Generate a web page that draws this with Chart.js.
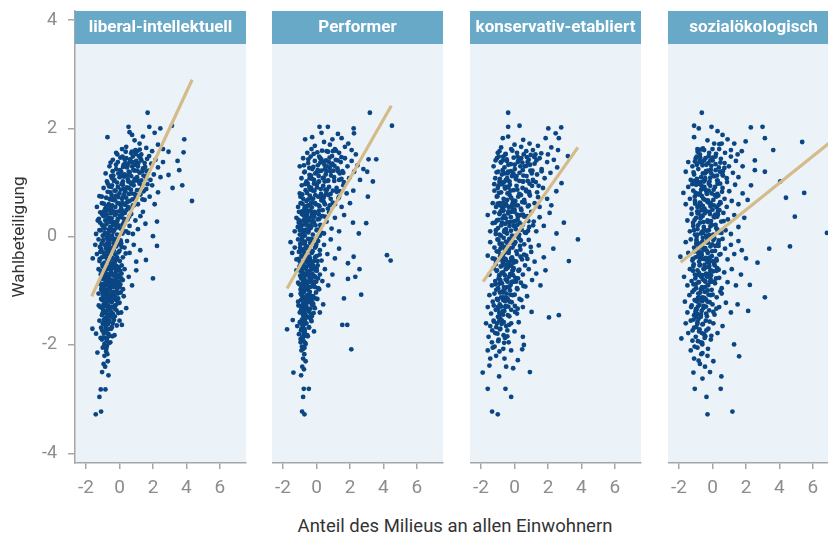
<!DOCTYPE html>
<html>
<head>
<meta charset="utf-8">
<script src="https://cdn.jsdelivr.net/npm/chart.js@4.4.0/dist/chart.umd.min.js"></script>
<style>
  html, body { margin: 0; padding: 0; background: #fff; }
  #wrap { position: relative; width: 828px; height: 539px; overflow: hidden; }
  #wrap canvas { position: absolute; top: 0; }
  #xtitle { position: absolute; left: 0; width: 910px; top: 515px; text-align: center;
            font: 18.5px Roboto, sans-serif; color: #333; }
</style>
</head>
<body>
<div id="wrap">
  <canvas id="p0" width="247" height="500" style="left:0px"></canvas>
  <canvas id="p1" width="172" height="500" style="left:272px"></canvas>
  <canvas id="p2" width="172" height="500" style="left:470px"></canvas>
  <canvas id="p3" width="172" height="500" style="left:668px"></canvas>
  <div id="xtitle">Anteil des Milieus an allen Einwohnern</div>
</div>
<script>
var panelTitles = ['liberal-intellektuell', 'Performer', 'konservativ-etabliert', 'sozialökologisch'];
var xTicks = [-2, 0, 2, 4, 6];
var yTicks = [-4, -2, 0, 2, 4];

// [Anteil, Wahlbeteiligung] per Gemeinde
var libPts = [
[1.68,2.29],[0.54,2.03],[1.78,2.03],[2.44,2.0],[3.13,2.05],[-0.72,1.84],[0.6,1.93],[0.75,1.88],[1.4,1.85],[2.1,1.92],[0.9,1.78],[1.2,1.72],[2.3,1.7],[0.15,1.62],[0.4,1.66],[0.95,1.6],[1.6,1.64],[1.95,1.58],[2.6,1.62],[-0.2,1.55],[0.7,1.54],[1.3,1.52],[3.87,1.8],[3.83,1.56],[2.93,1.57],
[-0.75,1.02],[-0.6,1.3],[-0.5,1.12],[-0.4,1.42],[-0.3,1.05],[-0.2,1.25],[-0.1,1.38],[0.0,1.1],[0.05,1.46],[0.1,1.2],[0.2,1.02],[0.25,1.33],[0.3,1.15],[0.4,1.45],[0.45,1.28],[0.5,1.06],[0.55,1.2],[0.6,1.38],[0.7,1.12],[0.75,1.3],[0.8,1.48],[0.85,1.02],[0.9,1.22],[1.0,1.4],[1.05,1.1],[1.1,1.3],[1.2,1.18],[1.25,1.45],[1.3,1.04],[1.4,1.26],[1.5,1.36],[1.55,1.12],[1.65,1.44],[1.75,1.22],[1.85,1.05],[1.9,1.35],[2.05,1.15],[2.15,1.42],[2.3,1.28],[2.45,1.1],[2.6,1.38],[3.47,1.4],[3.57,1.23],[2.93,1.14],[-0.15,1.0],[0.35,1.36],[0.65,1.0],[1.15,1.49],
[-1.35,0.55],[-1.2,0.75],[-1.05,0.62],[-0.95,0.9],[-0.85,0.52],[-0.8,0.72],[-0.7,0.98],[-0.65,0.6],[-0.55,0.82],[-0.5,0.52],[-0.45,0.95],[-0.4,0.68],[-0.3,0.85],[-0.25,0.55],[-0.2,0.76],[-0.1,0.92],[-0.05,0.62],[0.0,0.8],[0.1,0.52],[0.15,0.7],[0.2,0.96],[0.3,0.6],[0.35,0.84],[0.4,0.72],[0.5,0.55],[0.55,0.9],[0.6,0.66],[0.7,0.8],[0.8,0.58],[0.85,0.95],[0.95,0.72],[1.05,0.86],[1.1,0.6],[1.25,0.78],[1.35,0.94],[1.5,0.68],[1.6,0.88],[1.8,0.74],[1.95,0.95],[2.1,0.6],[2.3,0.82],[3.75,0.95],[3.17,0.9],[4.33,0.66],[-0.6,0.7],[0.25,0.88],[0.65,0.52],[1.2,0.98],
[-1.4,0.05],[-1.3,0.3],[-1.2,0.12],[-1.15,0.45],[-1.05,0.22],[-1.0,0.02],[-0.95,0.38],[-0.88,0.15],[-0.8,0.48],[-0.75,0.28],[-0.7,0.06],[-0.62,0.35],[-0.55,0.18],[-0.5,0.44],[-0.45,0.02],[-0.4,0.27],[-0.32,0.12],[-0.28,0.4],[-0.2,0.22],[-0.15,0.04],[-0.1,0.33],[-0.02,0.47],[0.05,0.15],[0.1,0.36],[0.18,0.06],[0.25,0.26],[0.32,0.44],[0.4,0.1],[0.48,0.32],[0.6,0.2],[0.7,0.42],[0.8,0.05],[0.95,0.3],[1.1,0.14],[1.25,0.38],[1.55,0.24],[2.24,0.28],[2.0,0.01],[1.4,0.46],[-0.65,0.0],[0.15,0.48],[-0.85,0.3],
[-1.6,-0.4],[-1.45,-0.15],[-1.35,-0.32],[-1.25,-0.05],[-1.2,-0.45],[-1.1,-0.22],[-1.05,-0.38],[-1.0,-0.08],[-0.95,-0.3],[-0.9,-0.48],[-0.85,-0.16],[-0.8,-0.35],[-0.75,-0.02],[-0.7,-0.25],[-0.65,-0.44],[-0.6,-0.12],[-0.55,-0.3],[-0.5,-0.05],[-0.45,-0.4],[-0.4,-0.2],[-0.35,-0.48],[-0.3,-0.1],[-0.25,-0.33],[-0.2,-0.18],[-0.12,-0.42],[-0.08,-0.04],[0.0,-0.26],[0.1,-0.12],[0.2,-0.38],[0.3,-0.2],[0.45,-0.08],[0.6,-0.3],[0.85,-0.15],[1.0,-0.46],[1.24,-0.25],[1.58,-0.43],[2.24,-0.17],[-1.15,-0.28],
[-1.25,-0.6],[-1.2,-0.85],[-1.12,-0.7],[-1.08,-0.95],[-1.0,-0.55],[-0.98,-0.78],[-0.92,-0.65],[-0.9,-0.92],[-0.85,-0.52],[-0.82,-0.74],[-0.78,-0.88],[-0.72,-0.6],[-0.7,-0.98],[-0.65,-0.7],[-0.62,-0.84],[-0.58,-0.55],[-0.55,-0.95],[-0.5,-0.66],[-0.46,-0.8],[-0.42,-0.58],[-0.38,-0.9],[-0.35,-0.72],[-0.3,-0.52],[-0.25,-0.85],[-0.2,-0.64],[-0.15,-0.96],[-0.1,-0.75],[-0.02,-0.56],[0.05,-0.88],[0.12,-0.68],[0.2,-0.8],[0.3,-0.6],[0.55,-0.74],[0.75,-0.9],[1.0,-0.62],[2.0,-0.77],[-0.78,-0.68],[-0.6,-0.78],
[-1.25,-1.05],[-1.15,-1.3],[-1.1,-1.15],[-1.05,-1.45],[-1.0,-1.02],[-0.95,-1.25],[-0.9,-1.38],[-0.88,-1.1],[-0.82,-1.5],[-0.78,-1.2],[-0.72,-1.04],[-0.7,-1.35],[-0.65,-1.18],[-0.6,-1.45],[-0.55,-1.08],[-0.5,-1.3],[-0.45,-1.2],[-0.4,-1.42],[-0.35,-1.02],[-0.3,-1.28],[-0.25,-1.12],[-0.18,-1.36],[-0.1,-1.05],[0.0,-1.22],[0.1,-1.4],[0.25,-1.1],[0.4,-1.32],[-0.8,-1.28],
[-1.62,-1.7],[-1.4,-1.79],[-1.2,-1.55],[-1.1,-1.68],[-1.05,-1.9],[-1.0,-1.6],[-0.95,-1.78],[-0.9,-1.98],[-0.85,-1.58],[-0.8,-1.72],[-0.75,-1.88],[-0.7,-1.62],[-0.65,-1.8],[-0.6,-1.55],[-0.55,-1.95],[-0.5,-1.7],[-0.4,-1.6],[-0.3,-1.82],[0.14,-1.63],[-0.16,-1.64],[0.0,-1.55],
[-1.32,-2.14],[-1.0,-2.05],[-0.9,-2.2],[-0.8,-2.12],[-0.7,-2.3],[-0.95,-2.35],[-0.86,-2.4],[-1.04,-2.5],[-0.66,-2.56],[-0.75,-2.02],[-1.12,-2.82],[-0.84,-2.82],[-1.2,-2.96],[-1.42,-3.28],[-1.1,-3.23],
[-0.83,1.17],[-0.62,0.93],[-0.41,1.21],[-0.27,0.67],[-0.13,1.52],[0.07,0.87],[0.21,1.29],[0.33,0.59],[0.47,1.13],[0.63,1.43],[0.77,0.69],[0.91,1.07],[1.13,1.36],[1.27,0.87],[1.43,1.13],[1.67,0.97],[0.13,0.97],[-0.53,1.37],[0.37,1.57],[0.83,1.24],[1.03,0.77],[-0.33,1.03],[0.57,0.79],[1.53,1.29],[-0.07,0.73],[0.27,1.11],[0.71,0.97],[1.21,1.61],[-0.71,0.83],[0.43,0.91],[0.97,1.53],[1.77,1.49],[-0.21,1.33],[0.03,1.23],[1.37,0.69],[0.61,1.19],[-0.47,0.77],[0.17,0.63],
[-1.23,0.33],[-1.07,-0.13],[-0.97,0.19],[-0.87,-0.37],[-0.77,0.41],[-0.67,-0.07],[-0.57,0.27],[-0.47,-0.23],[-0.37,0.09],[-0.27,-0.43],[-0.17,0.17],[-0.07,-0.29],[0.03,0.39],[0.13,-0.19],[0.23,0.11],[0.37,-0.31],[0.53,0.07],[-1.17,-0.19],[-0.93,0.47],[-0.73,-0.27],[-0.53,0.43],[-0.33,-0.13],[-0.13,0.29],[0.07,-0.07],[-0.87,0.07],[-0.63,0.13],[-0.43,-0.39],[-0.23,0.41],[-1.03,0.41],[0.27,0.33],[-0.03,0.03],[-0.59,-0.47],[-0.79,0.23],[-0.39,0.21],
[-1.13,-0.63],[-1.03,-1.17],[-0.97,-0.87],[-0.93,-1.53],[-0.87,-0.67],[-0.83,-1.03],[-0.77,-1.37],[-0.73,-0.79],[-0.67,-1.13],[-0.63,-0.57],[-0.59,-1.47],[-0.53,-0.87],[-0.49,-1.21],[-0.43,-0.69],[-0.39,-1.07],[-0.33,-0.83],[-0.29,-1.33],[-0.23,-0.59],[-0.19,-1.17],[-0.13,-0.91],[-0.07,-1.41],[-0.03,-0.71],[0.07,-1.03],[0.13,-0.53],[-1.07,-0.77],[-0.97,-1.29],[-0.89,-0.97],[-0.81,-0.59],[-0.71,-1.53],[-0.61,-0.97],[-0.51,-0.63],[-0.41,-1.49],[-0.31,-1.09],[-0.21,-0.77],[-0.11,-1.23],[0.01,-0.93],[-0.93,-1.13],[-0.79,-1.19],[-0.57,-1.31],[-0.37,-0.93],[-0.69,-0.89],[-0.47,-1.03],[-0.17,-1.01],[-1.01,-1.41],
[-1.03,-1.73],[-0.93,-2.03],[-0.83,-1.67],[-0.77,-1.93],[-0.67,-1.71],[-0.97,-1.61],[-0.73,-2.17],[-0.87,-1.87],[-0.59,-1.83],[-1.13,-1.87],
[-0.94,0.61],[-0.81,-0.22],[-0.66,0.49],[-1.02,-0.51],[-0.58,-0.71],[-0.87,-1.23],[-0.44,0.58],[-0.29,-0.47],[-0.74,-0.41],[-0.96,-0.06],[-0.52,-1.38],[-0.68,-1.27],[-0.35,0.71],[-0.18,0.46],[0.08,0.58],[-0.09,-0.62],[-0.83,-0.84],[-1.11,0.12],[-0.61,-0.19],[-0.42,-0.83],[-0.24,-1.27],[-0.78,0.56],[-0.56,0.69],[-0.91,-1.61],[-0.72,-1.79],[-0.64,-1.58],[-0.86,-0.36],[-0.34,-0.26],[-0.15,-0.38],[0.02,-0.45],[0.18,0.22],[0.41,0.49],[0.58,0.37],[0.86,0.58],[1.07,1.22],[1.31,1.41],[0.49,1.33],[0.12,1.12],[-0.37,1.13],[0.74,1.57],[0.93,1.33],[1.62,1.21],[1.44,0.84],[0.29,0.79],[-0.49,0.92],[-0.23,0.85],[-1.06,0.74],[-1.18,-0.41],[-1.09,-0.98],[-0.99,-1.08],[-0.81,-1.42],[-0.55,-1.13],[-0.33,-1.54],[-0.46,-1.67],[-0.7,-1.11],[-0.26,-0.69],[-0.04,-0.83],[0.21,-0.97],[-0.62,0.09],[-0.47,0.34],
[-1.06,-0.27],[-0.91,-0.71],[-0.76,-0.13],[-0.63,-0.93],[-0.48,-0.52],[-0.31,-0.04],[-0.19,-0.54],[-0.02,-0.14],[-1.14,-0.88],[-0.99,-1.34],[-0.84,-1.52],[-0.69,-1.44],[-0.54,-0.41],[-0.39,-1.16],[-0.14,-0.83],[0.04,-0.63],[-0.72,0.34],[-0.51,0.14],[-0.27,0.27],[-0.06,0.21],[0.16,0.41],[-0.89,0.43],[-1.16,0.26],[-0.58,0.57],[-0.36,0.47],[-0.11,0.62],[0.22,0.74],[0.46,0.64],[0.68,0.87],[0.89,0.79],[1.11,1.03],[0.31,1.43],[0.52,1.02],[0.78,1.38],[1.04,1.58],[1.36,1.21],[1.58,1.07],[-0.07,1.17],[0.18,1.48],[-0.44,1.08],[-0.96,-1.86],[-0.79,-2.07],[-0.62,-1.96],[-1.24,-1.27],[-0.43,-1.84],[-0.28,-1.47],[-0.08,-1.14],[0.11,-0.77],[-0.66,-0.32],[-0.9,0.04]
];

var perfPts = [
[3.19,2.29],[4.51,2.05],[0.18,2.03],[0.68,2.03],[2.22,2.0],[2.24,1.91],[1.28,1.9],[-0.26,1.84],[-0.68,1.8],[0.3,1.92],[0.45,1.75],[1.5,1.82],[1.9,1.72],[-0.1,1.68],[0.8,1.7],[1.1,1.62],[2.1,1.6],[-0.55,1.55],[0.05,1.56],[0.6,1.58],[1.35,1.55],[1.7,1.66],[2.35,1.52],[-0.3,1.62],[0.95,1.8],
[-1.0,1.3],[-0.9,1.08],[-0.8,1.45],[-0.7,1.2],[-0.6,1.02],[-0.5,1.36],[-0.42,1.14],[-0.35,1.48],[-0.25,1.25],[-0.15,1.05],[-0.1,1.4],[0.0,1.18],[0.08,1.32],[0.15,1.02],[0.22,1.45],[0.3,1.22],[0.38,1.08],[0.45,1.38],[0.55,1.15],[0.62,1.3],[0.7,1.04],[0.78,1.46],[0.85,1.2],[0.95,1.35],[1.05,1.1],[1.15,1.42],[1.25,1.26],[1.35,1.05],[1.45,1.38],[1.6,1.18],[1.7,1.45],[1.85,1.3],[1.95,1.08],[2.1,1.4],[2.25,1.2],[2.45,1.32],[2.6,1.05],[3.57,1.43],[3.11,1.43],[3.03,1.2],[3.37,1.02],[2.8,1.25],[-0.75,1.32],[0.5,1.25],
[-1.1,0.55],[-1.0,0.8],[-0.95,0.62],[-0.88,0.95],[-0.8,0.7],[-0.72,0.52],[-0.65,0.86],[-0.6,0.66],[-0.52,0.98],[-0.48,0.58],[-0.4,0.76],[-0.32,0.9],[-0.28,0.54],[-0.2,0.7],[-0.12,0.85],[-0.05,0.6],[0.02,0.96],[0.1,0.74],[0.18,0.56],[0.25,0.88],[0.32,0.68],[0.4,0.94],[0.5,0.6],[0.58,0.8],[0.68,0.52],[0.75,0.92],[0.85,0.7],[0.98,0.85],[1.1,0.6],[1.2,0.9],[1.35,0.74],[1.5,0.55],[1.6,0.95],[1.8,0.8],[2.0,0.62],[2.2,0.85],[3.07,0.74],[-0.85,0.78],[0.45,0.75],[-0.15,0.98],
[-1.3,0.1],[-1.2,0.35],[-1.12,0.18],[-1.05,0.46],[-1.0,0.04],[-0.95,0.28],[-0.88,0.42],[-0.82,0.12],[-0.78,0.3],[-0.7,0.02],[-0.65,0.46],[-0.6,0.22],[-0.55,0.38],[-0.5,0.08],[-0.45,0.3],[-0.4,0.48],[-0.35,0.16],[-0.28,0.36],[-0.22,0.04],[-0.15,0.26],[-0.08,0.44],[0.0,0.12],[0.08,0.32],[0.15,0.48],[0.25,0.2],[0.35,0.38],[0.45,0.06],[0.6,0.28],[0.75,0.45],[0.9,0.15],[1.1,0.35],[1.35,0.1],[1.65,0.4],[2.97,0.25],[2.53,0.06],[2.18,0.26],[-0.9,0.2],[0.2,0.02],
[-1.55,-0.1],[-1.45,-0.3],[-1.3,-0.2],[-1.2,-0.42],[-1.1,-0.05],[-1.05,-0.28],[-1.0,-0.46],[-0.95,-0.14],[-0.9,-0.35],[-0.85,-0.02],[-0.8,-0.24],[-0.75,-0.44],[-0.7,-0.1],[-0.65,-0.32],[-0.6,-0.18],[-0.55,-0.48],[-0.5,-0.04],[-0.45,-0.26],[-0.4,-0.4],[-0.35,-0.12],[-0.28,-0.3],[-0.2,-0.06],[-0.15,-0.45],[-0.08,-0.2],[0.0,-0.36],[0.1,-0.08],[0.2,-0.25],[0.3,-0.44],[0.45,-0.15],[0.65,-0.32],[0.85,-0.05],[1.1,-0.4],[1.35,-0.22],[4.21,-0.34],[4.43,-0.44],[2.22,-0.37],[1.88,-0.49],[-0.98,-0.2],
[-1.2,-0.62],[-1.1,-0.85],[-1.02,-0.55],[-0.98,-0.72],[-0.92,-0.95],[-0.88,-0.6],[-0.82,-0.8],[-0.78,-0.52],[-0.72,-0.9],[-0.68,-0.68],[-0.62,-0.56],[-0.58,-0.84],[-0.52,-0.98],[-0.48,-0.65],[-0.42,-0.78],[-0.38,-0.54],[-0.32,-0.92],[-0.28,-0.7],[-0.2,-0.6],[-0.15,-0.86],[-0.08,-0.74],[0.0,-0.58],[0.1,-0.95],[0.2,-0.7],[0.35,-0.82],[0.5,-0.6],[0.7,-0.9],[0.95,-0.7],[2.57,-0.6],[2.32,-0.74],[1.88,-0.78],[-0.75,-0.75],
[-1.52,-1.08],[-1.1,-1.2],[-1.0,-1.4],[-0.95,-1.05],[-0.9,-1.28],[-0.85,-1.15],[-0.8,-1.45],[-0.75,-1.02],[-0.7,-1.3],[-0.65,-1.18],[-0.6,-1.48],[-0.55,-1.08],[-0.5,-1.35],[-0.45,-1.2],[-0.4,-1.02],[-0.35,-1.42],[-0.28,-1.25],[-0.2,-1.1],[-0.1,-1.32],[0.05,-1.15],[0.2,-1.4],[0.4,-1.25],[2.67,-1.07],[1.64,-1.14],[-0.82,-1.32],
[-1.76,-1.71],[-1.42,-1.54],[-1.15,-1.65],[-1.05,-1.8],[-1.0,-1.58],[-0.95,-1.95],[-0.9,-1.7],[-0.85,-1.55],[-0.8,-1.85],[-0.75,-1.62],[-0.7,-1.76],[-0.65,-1.98],[-0.6,-1.6],[-0.55,-1.82],[-0.45,-1.68],[-0.3,-1.56],[-0.15,-1.75],[1.54,-1.63],[1.84,-1.63],
[2.08,-2.08],[-0.9,-2.1],[-0.8,-2.25],[-0.72,-2.05],[-0.85,-2.4],[-0.65,-2.3],[-0.75,-2.45],[-1.38,-2.51],[-0.92,-2.56],[-0.76,-2.81],[-0.46,-2.81],[-0.8,-2.96],[-0.86,-3.23],[-0.72,-3.28],
[-0.73,1.19],[-0.57,0.81],[-0.43,1.27],[-0.31,0.63],[-0.17,1.53],[0.03,0.91],[0.17,1.21],[0.29,0.67],[0.43,1.09],[0.57,1.41],[0.71,0.77],[0.87,1.13],[1.07,1.31],[1.21,0.83],[1.39,1.17],[1.63,1.01],[0.11,1.01],[-0.49,1.43],[0.33,1.59],[0.79,1.27],[0.97,0.63],[-0.27,1.07],[0.53,0.87],[1.49,1.47],[-0.07,0.77],[0.23,1.37],[0.67,1.03],[1.17,1.59],[-0.67,0.97],[0.41,0.71],[0.93,1.49],[-0.19,1.29],[0.07,1.23],[1.31,0.71],[0.61,1.21],[-0.37,0.87],
[-1.07,0.31],[-0.97,-0.13],[-0.91,0.21],[-0.83,-0.37],[-0.77,0.39],[-0.69,-0.09],[-0.61,0.27],[-0.53,-0.21],[-0.47,0.11],[-0.39,-0.43],[-0.31,0.19],[-0.23,-0.27],[-0.13,0.37],[-0.03,-0.17],[0.09,0.13],[0.19,-0.33],[0.33,0.07],[-1.01,-0.27],[-0.87,0.47],[-0.73,-0.29],[-0.57,0.43],[-0.37,-0.11],[-0.19,0.29],[0.01,-0.03],[-0.81,0.07],[-0.63,0.13],[-0.43,-0.37],[-0.27,0.41],[0.17,0.33],[-0.49,-0.47],[-0.71,0.23],[-0.41,0.21],
[-0.97,-0.63],[-0.93,-1.17],[-0.89,-0.87],[-0.87,-1.53],[-0.83,-0.67],[-0.79,-1.03],[-0.75,-1.37],[-0.71,-0.79],[-0.67,-1.13],[-0.63,-0.57],[-0.61,-1.47],[-0.57,-0.89],[-0.53,-1.21],[-0.49,-0.71],[-0.45,-1.07],[-0.41,-0.83],[-0.37,-1.33],[-0.33,-0.61],[-0.29,-1.17],[-0.23,-0.91],[-0.17,-1.41],[-0.13,-0.73],[-0.03,-1.03],[0.07,-0.53],[-0.91,-0.77],[-0.85,-1.29],[-0.81,-0.97],[-0.77,-0.59],[-0.69,-1.53],[-0.65,-0.97],[-0.55,-0.63],[-0.47,-1.49],[-0.39,-1.09],[-0.31,-0.77],[-0.21,-1.23],[-0.09,-0.93],[-0.73,-1.13],[-0.59,-1.31],[-0.43,-0.93],[-0.81,-1.41],
[-0.93,-1.73],[-0.87,-2.03],[-0.81,-1.67],[-0.77,-1.93],[-0.71,-1.71],[-0.89,-1.61],[-0.73,-2.17],[-0.83,-1.87],[-0.63,-1.83],[-0.95,-1.89],
[-0.84,0.61],[-0.71,-0.22],[-0.59,0.49],[-0.92,-0.51],[-0.51,-0.71],[-0.79,-1.23],[-0.38,0.58],[-0.24,-0.47],[-0.67,-0.41],[-0.88,-0.06],[-0.47,-1.38],[-0.62,-1.27],[-0.29,0.71],[-0.11,0.46],[0.12,0.58],[-0.06,-0.62],[-0.74,-0.84],[-0.99,0.12],[-0.55,-0.19],[-0.36,-0.83],[-0.19,-1.27],[-0.69,0.56],[-0.49,0.69],[-0.83,-1.61],[-0.77,-1.79],[-0.69,-1.58],[-0.79,-0.36],[-0.27,-0.26],[-0.09,-0.38],[0.06,-0.45],[0.23,0.22],[0.37,0.49],[0.51,0.37],[0.79,0.58],[1.02,1.22],[1.27,1.41],[0.47,1.33],[0.13,1.12],[-0.33,1.13],[0.69,1.57],[0.89,1.33],[1.55,1.21],[1.39,0.84],[0.27,0.79],[-0.43,0.92],[-0.21,0.85],[-0.96,0.74],[-1.06,-0.41],[-0.95,-0.98],[-0.89,-1.08],[-0.71,-1.42],[-0.52,-1.13],[-0.33,-1.54],[-0.45,-1.67],[-0.66,-1.11],[-0.24,-0.69],[-0.02,-0.83],[0.16,-0.97],[-0.58,0.09],[-0.44,0.34],
[-0.96,-0.27],[-0.86,-0.71],[-0.71,-0.13],[-0.59,-0.93],[-0.46,-0.52],[-0.31,-0.04],[-0.19,-0.54],[-0.02,-0.14],[-1.03,-0.88],[-0.91,-1.34],[-0.79,-1.52],[-0.67,-1.44],[-0.51,-0.41],[-0.37,-1.16],[-0.14,-0.83],[0.02,-0.63],[-0.68,0.34],[-0.49,0.14],[-0.25,0.27],[-0.06,0.21],[0.14,0.41],[-0.84,0.43],[-1.06,0.26],[-0.55,0.57],[-0.34,0.47],[-0.09,0.62],[0.21,0.74],[0.44,0.64],[0.63,0.87],[0.84,0.79],[1.06,1.03],[0.29,1.43],[0.49,1.02],[0.74,1.38],[0.98,1.58],[1.29,1.21],[1.49,1.07],[-0.07,1.17],[0.16,1.48],[-0.41,1.08],[-0.86,-1.86],[-0.79,-2.07],[-0.68,-1.96],[-1.08,-1.27],[-0.52,-1.84],[-0.28,-1.47],[-0.08,-1.14],[0.09,-0.77],[-0.63,-0.32],[-0.84,0.04]
];

var konsPts = [
[-0.38,2.29],[-0.38,2.03],[0.3,2.05],[2.02,2.0],[2.79,2.02],[-0.7,1.82],[-0.38,1.85],[0.52,1.79],[1.86,1.82],[2.46,1.91],[2.65,1.82],[2.6,1.6],[-1.0,1.55],[-0.8,1.65],[-0.55,1.52],[-0.2,1.62],[0.0,1.7],[0.15,1.55],[0.4,1.66],[0.7,1.58],[0.9,1.72],[1.1,1.6],[1.4,1.68],[1.6,1.54],[2.2,1.65],[2.0,1.52],[-0.9,1.58],[1.25,1.52],[0.55,1.52],
[-1.25,1.3],[-1.15,1.08],[-1.05,1.45],[-0.98,1.2],[-0.9,1.02],[-0.82,1.38],[-0.75,1.15],[-0.68,1.48],[-0.6,1.28],[-0.52,1.05],[-0.45,1.4],[-0.38,1.2],[-0.3,1.02],[-0.22,1.34],[-0.15,1.12],[-0.05,1.46],[0.02,1.25],[0.1,1.06],[0.2,1.38],[0.3,1.18],[0.4,1.45],[0.5,1.02],[0.6,1.3],[0.72,1.12],[0.85,1.42],[0.95,1.22],[1.1,1.05],[1.2,1.35],[1.35,1.15],[1.5,1.45],[1.62,1.25],[1.8,1.08],[1.95,1.38],[2.15,1.18],[2.35,1.42],[2.55,1.28],[3.19,1.49],[2.81,0.99],[-0.7,1.0],[0.35,1.3],
[-1.3,0.62],[-1.2,0.85],[-1.1,0.55],[-1.02,0.75],[-0.95,0.95],[-0.88,0.62],[-0.8,0.82],[-0.72,0.52],[-0.65,0.7],[-0.58,0.92],[-0.5,0.6],[-0.42,0.8],[-0.35,0.55],[-0.28,0.96],[-0.2,0.72],[-0.12,0.52],[-0.05,0.86],[0.05,0.66],[0.12,0.94],[0.2,0.58],[0.3,0.78],[0.38,0.52],[0.48,0.9],[0.58,0.68],[0.7,0.84],[0.8,0.56],[0.92,0.76],[1.05,0.94],[1.2,0.62],[1.35,0.82],[1.5,0.55],[1.7,0.9],[1.95,0.7],[2.2,0.58],[2.5,0.84],[-1.0,0.9],[0.0,0.5],[0.9,0.98],
[-1.6,0.4],[-1.45,0.1],[-1.3,0.25],[-1.2,0.45],[-1.12,0.05],[-1.05,0.3],[-0.98,0.16],[-0.9,0.42],[-0.82,0.02],[-0.75,0.26],[-0.68,0.48],[-0.6,0.12],[-0.52,0.34],[-0.45,0.06],[-0.38,0.44],[-0.3,0.2],[-0.22,0.36],[-0.15,0.02],[-0.08,0.28],[0.0,0.46],[0.08,0.14],[0.18,0.32],[0.28,0.04],[0.38,0.4],[0.5,0.22],[0.62,0.08],[0.75,0.38],[0.88,0.18],[1.0,0.46],[1.15,0.28],[1.3,0.1],[1.5,0.36],[1.75,0.2],[2.1,0.44],[2.51,0.06],[2.95,0.26],[-0.55,0.24],[0.3,0.26],
[-1.6,-0.35],[-1.45,-0.1],[-1.3,-0.4],[-1.2,-0.2],[-1.1,-0.46],[-1.02,-0.05],[-0.95,-0.28],[-0.88,-0.42],[-0.8,-0.15],[-0.72,-0.34],[-0.65,-0.02],[-0.58,-0.22],[-0.5,-0.44],[-0.42,-0.12],[-0.35,-0.3],[-0.28,-0.05],[-0.2,-0.4],[-0.12,-0.2],[-0.05,-0.48],[0.05,-0.1],[0.15,-0.32],[0.25,-0.02],[0.35,-0.24],[0.45,-0.42],[0.58,-0.14],[0.7,-0.35],[0.85,-0.06],[1.0,-0.28],[1.2,-0.46],[1.45,-0.16],[1.75,-0.38],[2.32,-0.22],[3.79,-0.05],[3.25,-0.45],[-0.7,-0.48],[0.1,-0.46],
[-1.5,-0.7],[-1.35,-0.9],[-1.25,-0.58],[-1.15,-0.82],[-1.05,-0.62],[-0.98,-0.95],[-0.9,-0.72],[-0.82,-0.55],[-0.75,-0.86],[-0.68,-0.66],[-0.6,-0.98],[-0.52,-0.6],[-0.45,-0.8],[-0.38,-0.52],[-0.3,-0.92],[-0.22,-0.7],[-0.15,-0.84],[-0.05,-0.58],[0.05,-0.76],[0.15,-0.95],[0.25,-0.62],[0.38,-0.85],[0.5,-0.7],[0.65,-0.92],[0.85,-0.6],[1.05,-0.8],[1.3,-0.68],[1.55,-0.9],[1.85,-0.62],[-0.85,-0.8],
[-1.6,-1.3],[-1.5,-1.08],[-1.4,-1.42],[-1.3,-1.2],[-1.2,-1.05],[-1.12,-1.35],[-1.05,-1.15],[-0.95,-1.48],[-0.88,-1.25],[-0.8,-1.02],[-0.72,-1.38],[-0.65,-1.12],[-0.55,-1.3],[-0.48,-1.05],[-0.4,-1.45],[-0.3,-1.2],[-0.2,-1.35],[-0.1,-1.08],[0.02,-1.28],[0.15,-1.42],[0.3,-1.15],[0.5,-1.3],[0.75,-1.1],[1.02,-1.39],[2.65,-1.45],[2.06,-1.49],[-1.0,-1.3],
[-1.7,-1.6],[-1.55,-1.85],[-1.45,-1.65],[-1.35,-1.95],[-1.25,-1.55],[-1.15,-1.78],[-1.05,-1.6],[-0.95,-1.9],[-0.85,-1.7],[-0.75,-1.55],[-0.65,-1.82],[-0.5,-1.65],[-0.35,-1.95],[-0.2,-1.6],[0.0,-1.75],[0.25,-1.58],[0.5,-1.85],[0.56,-2.0],
[0.46,-2.08],[-1.6,-2.1],[-1.45,-2.25],[-1.3,-2.05],[-1.1,-2.2],[-1.5,-2.38],[-0.9,-2.12],[-0.6,-2.25],[-0.2,-2.1],[0.2,-2.28],[0.92,-2.5],[-1.9,-2.51],[-1.6,-2.81],[-0.54,-2.81],[-0.2,-2.96],[-1.34,-3.23],[-1.0,-3.28],[-0.92,-2.58],[-0.08,-2.43],[-0.5,-2.4],
[-1.07,1.19],[-0.93,0.81],[-0.81,1.37],[-0.67,0.63],[-0.53,1.53],[-0.37,0.91],[-0.21,1.21],[-0.09,0.67],[0.07,1.09],[0.23,1.41],[0.39,0.77],[0.53,1.13],[0.71,1.31],[0.87,0.83],[1.03,1.17],[1.27,1.01],[-0.63,1.01],[-0.47,1.43],[-0.13,1.59],[0.17,0.87],[0.61,0.63],[-0.87,1.07],[0.47,1.37],[1.19,1.47],[-0.29,0.77],[0.01,1.33],[0.79,1.03],[1.41,0.73],[-0.97,0.59],[-0.41,1.17],[0.29,1.03],[-0.17,0.57],[0.97,1.51],[-0.71,1.23],
[-0.97,0.31],[-0.89,-0.13],[-0.79,0.21],[-0.69,-0.37],[-0.61,0.39],[-0.51,-0.09],[-0.41,0.27],[-0.31,-0.21],[-0.21,0.11],[-0.11,-0.43],[-0.01,0.19],[0.11,-0.27],[0.21,0.37],[0.33,-0.17],[0.43,0.13],[0.57,-0.33],[0.69,0.07],[0.83,0.29],[0.97,-0.19],[1.11,0.21],[-0.83,0.47],[-0.57,-0.29],[-0.37,0.43],[-0.17,-0.11],[0.03,0.29],[0.27,-0.03],[0.51,0.41],[0.77,-0.41],[-0.47,0.07],[0.13,0.03],
[-1.07,-0.63],[-0.99,-1.17],[-0.91,-0.87],[-0.83,-1.43],[-0.77,-0.67],[-0.69,-1.03],[-0.61,-1.37],[-0.53,-0.79],[-0.47,-1.13],[-0.39,-0.57],[-0.31,-1.47],[-0.23,-0.89],[-0.17,-1.21],[-0.09,-0.71],[0.01,-1.07],[0.09,-0.83],[0.19,-1.33],[0.29,-0.61],[0.41,-1.17],[0.53,-0.91],[-0.95,-0.77],[-0.79,-1.29],[-0.63,-0.97],[-0.49,-0.59],[-0.37,-1.29],[-0.27,-0.99],[-0.13,-0.63],[0.03,-1.39],[0.17,-0.97],[-0.71,-0.53],[-0.57,-1.19],[-0.43,-0.93],
[-1.33,-1.73],[-1.19,-2.03],[-1.09,-1.67],[-0.97,-1.93],[-0.87,-1.71],[-0.77,-1.61],[-0.67,-2.07],[-0.57,-1.87],[-0.43,-1.73],[-1.23,-1.57],[-0.91,-1.55],[-0.33,-1.63],
[-1.01,0.61],[-0.84,-0.22],[-0.66,0.49],[-1.12,-0.51],[-0.58,-0.71],[-0.87,-1.03],[-0.44,0.68],[-0.29,-0.47],[-0.74,-0.41],[-0.96,-0.06],[-0.52,-1.28],[-0.68,-1.17],[-0.35,0.81],[-0.18,0.46],[0.08,0.58],[-0.09,-0.62],[-0.83,-0.84],[-1.11,0.12],[-0.61,-0.19],[-0.42,-0.83],[-0.24,-1.07],[-0.78,0.56],[-0.56,0.89],[-0.91,-1.41],[-1.02,-1.79],[-0.64,-1.58],[-0.86,-0.36],[-0.34,-0.26],[-0.15,-0.38],[0.02,-0.45],[0.18,0.22],[0.41,0.49],[0.58,0.37],[0.86,0.58],[1.07,1.22],[1.31,1.41],[0.49,1.23],[0.12,1.12],[-0.37,1.33],[0.74,1.47],[0.93,1.33],[1.62,1.21],[1.44,0.94],[0.29,0.79],[-0.49,0.92],[-0.23,0.85],[-1.06,0.74],[-1.18,-0.41],[-1.09,-0.98],[-0.99,-1.48],[-0.81,-1.12],[-0.55,-1.13],[-0.33,-0.74],[0.36,-0.37],[-0.7,1.41],[-0.26,-0.69],[-0.04,-0.83],[0.21,-0.77],[-0.62,0.09],[-0.47,1.04],
[-1.06,-0.27],[-0.91,-0.71],[-0.76,-0.13],[-0.63,-0.93],[-0.48,-0.52],[-0.31,-0.04],[-0.19,-0.54],[-0.02,-0.14],[-1.14,-0.88],[-0.99,-1.34],[-0.84,-1.52],[-0.69,-1.44],[-0.54,-0.41],[-0.39,-1.16],[-0.14,-0.83],[0.24,-0.63],[-0.72,0.34],[-0.51,0.14],[-0.27,0.27],[-0.06,0.21],[0.16,0.41],[-0.89,0.43],[-1.16,0.26],[-0.58,0.57],[-0.36,0.47],[-0.11,0.62],[0.22,0.74],[0.46,0.64],[0.68,0.87],[0.89,0.79],[1.11,1.03],[0.31,1.43],[0.52,1.02],[0.78,1.38],[-0.94,1.48],[-0.76,0.97],[-0.58,1.17],[-0.07,1.17],[0.18,1.48],[-0.44,1.08],[-1.21,0.97],[-1.13,1.41],[-0.62,-1.96],[-1.24,-1.27],[-0.43,-1.84],[0.38,-0.07],[0.63,-0.53],[0.81,0.11],[-0.66,-0.32],[-0.9,0.04]
];

var sozPts = [
[-0.64,2.29],[-1.1,2.05],[-0.82,2.0],[-0.06,2.03],[-1.1,1.84],[2.29,2.02],[2.99,2.03],[5.36,1.75],[3.63,1.6],[3.13,1.82],[1.98,1.76],[0.3,1.95],[0.6,1.88],[0.9,1.8],[-0.3,1.78],[0.1,1.72],[1.3,1.72],[-0.9,1.62],[-0.5,1.6],[-0.2,1.55],[0.4,1.62],[0.75,1.55],[1.1,1.6],[1.5,1.52],[-0.75,1.52],[0.0,1.62],[1.75,1.58],[0.55,1.72],
[-1.6,1.2],[-1.45,1.38],[-1.3,1.05],[-1.2,1.3],[-1.1,1.15],[-1.0,1.45],[-0.92,1.02],[-0.85,1.25],[-0.75,1.4],[-0.68,1.1],[-0.6,1.32],[-0.5,1.05],[-0.42,1.45],[-0.35,1.2],[-0.25,1.36],[-0.18,1.02],[-0.1,1.24],[0.0,1.46],[0.08,1.12],[0.18,1.34],[0.28,1.04],[0.38,1.28],[0.5,1.44],[0.6,1.14],[0.72,1.36],[0.85,1.08],[0.98,1.3],[1.1,1.48],[1.22,1.18],[1.4,1.4],[1.55,1.1],[1.8,1.3],[2.53,1.41],[2.53,1.23],[3.13,1.2],[4.05,1.02],[-0.8,1.0],[0.45,1.2],
[-1.74,0.81],[-1.6,0.6],[-1.45,0.92],[-1.35,0.7],[-1.25,0.52],[-1.15,0.85],[-1.05,0.66],[-0.98,0.96],[-0.9,0.55],[-0.82,0.78],[-0.72,0.62],[-0.65,0.94],[-0.55,0.7],[-0.48,0.52],[-0.4,0.86],[-0.3,0.64],[-0.22,0.98],[-0.12,0.56],[-0.05,0.8],[0.05,0.68],[0.15,0.92],[0.25,0.54],[0.35,0.76],[0.48,0.62],[0.6,0.9],[0.72,0.7],[0.85,0.55],[1.0,0.84],[1.15,0.66],[1.35,0.96],[1.55,0.6],[1.8,0.8],[2.1,0.68],[2.3,0.95],[4.39,0.72],[5.48,0.81],[-0.75,0.8],[0.3,0.98],
[-1.5,0.3],[-1.35,0.1],[-1.25,0.42],[-1.15,0.2],[-1.05,0.04],[-0.98,0.35],[-0.9,0.14],[-0.82,0.46],[-0.75,0.26],[-0.68,0.06],[-0.6,0.38],[-0.52,0.18],[-0.45,0.48],[-0.38,0.02],[-0.3,0.3],[-0.22,0.12],[-0.15,0.42],[-0.05,0.22],[0.05,0.04],[0.12,0.36],[0.22,0.16],[0.32,0.46],[0.42,0.08],[0.52,0.28],[0.65,0.44],[0.78,0.12],[0.92,0.32],[1.1,0.05],[1.3,0.4],[1.55,0.18],[1.9,0.35],[4.92,0.37],[6.84,0.07],[-0.95,0.0],[0.0,0.5],
[-1.92,-0.37],[-1.6,-0.1],[-1.45,-0.3],[-1.3,-0.05],[-1.2,-0.44],[-1.1,-0.2],[-1.02,-0.38],[-0.95,-0.08],[-0.88,-0.28],[-0.8,-0.46],[-0.72,-0.14],[-0.65,-0.34],[-0.58,-0.02],[-0.5,-0.24],[-0.42,-0.42],[-0.35,-0.1],[-0.28,-0.3],[-0.2,-0.48],[-0.12,-0.18],[-0.04,-0.36],[0.05,-0.06],[0.15,-0.26],[0.25,-0.44],[0.35,-0.12],[0.48,-0.32],[0.6,-0.04],[0.75,-0.22],[0.9,-0.42],[1.1,-0.15],[1.3,-0.32],[1.55,-0.08],[1.75,-0.25],[2.0,-0.4],[2.69,-0.48],[3.39,-0.22],[4.63,-0.18],[-0.62,-0.2],[0.1,-0.5],
[-1.7,-0.74],[-1.5,-0.9],[-1.35,-0.6],[-1.25,-0.82],[-1.15,-0.55],[-1.05,-0.7],[-0.98,-0.95],[-0.9,-0.62],[-0.82,-0.84],[-0.75,-0.52],[-0.68,-0.74],[-0.6,-0.96],[-0.52,-0.6],[-0.45,-0.82],[-0.38,-0.68],[-0.3,-0.9],[-0.22,-0.56],[-0.12,-0.78],[-0.05,-0.98],[0.05,-0.64],[0.15,-0.86],[0.28,-0.58],[0.4,-0.76],[0.55,-0.95],[0.7,-0.66],[0.9,-0.84],[1.15,-0.6],[1.4,-0.9],[1.7,-0.7],[2.23,-0.89],[-0.8,-0.68],
[-1.65,-1.2],[-1.5,-1.4],[-1.38,-1.08],[-1.28,-1.3],[-1.2,-1.02],[-1.1,-1.45],[-1.02,-1.18],[-0.95,-1.35],[-0.85,-1.05],[-0.78,-1.26],[-0.7,-1.48],[-0.62,-1.12],[-0.55,-1.32],[-0.45,-1.02],[-0.38,-1.42],[-0.3,-1.2],[-0.2,-1.36],[-0.1,-1.08],[0.0,-1.25],[0.12,-1.44],[0.25,-1.12],[0.4,-1.3],[0.55,-1.05],[0.8,-1.22],[1.1,-1.4],[1.5,-1.25],[3.13,-1.12],[2.13,-1.37],[-0.9,-1.2],
[-1.86,-1.88],[-1.6,-1.6],[-1.45,-1.78],[-1.3,-1.55],[-1.2,-1.92],[-1.1,-1.68],[-1.0,-1.85],[-0.9,-1.58],[-0.8,-1.75],[-0.7,-1.95],[-0.6,-1.62],[-0.5,-1.8],[-0.4,-1.55],[-0.25,-1.7],[-0.1,-1.9],[0.05,-1.6],[0.3,-1.78],[0.6,-1.65],[1.29,-1.99],
[1.59,-2.21],[-1.3,-2.1],[-1.1,-2.25],[-0.9,-2.05],[-0.75,-2.35],[-0.6,-2.15],[-0.45,-2.4],[-0.3,-2.2],[-0.15,-2.5],[0.05,-2.3],[0.53,-2.58],[0.49,-2.81],[1.19,-3.23],[-0.3,-3.28],[-1.06,-2.81],[-0.36,-2.96],[-1.14,-2.51],[-0.6,-2.62],
[-1.13,1.19],[-1.01,0.81],[-0.89,1.57],[-0.77,0.63],[-0.63,1.37],[-0.51,0.91],[-0.39,1.21],[-0.27,0.67],[-0.13,1.09],[0.01,1.41],[0.13,0.77],[0.27,1.13],[0.41,1.71],[0.57,0.83],[0.71,1.27],[0.87,1.01],[-0.71,1.01],[-0.57,1.63],[-0.23,1.49],[0.07,0.87],[0.37,0.59],[-0.93,1.07],[0.47,1.37],[-0.33,0.79],[-0.07,1.31],[0.21,1.53],[-0.83,0.57],[-0.45,1.17],[0.63,1.13],[-0.17,0.61],[-1.05,1.39],[-0.63,0.75],
[-1.07,0.31],[-0.97,-0.13],[-0.87,0.21],[-0.79,-0.37],[-0.71,0.39],[-0.61,-0.09],[-0.53,0.27],[-0.43,-0.21],[-0.33,0.11],[-0.23,-0.43],[-0.13,0.19],[-0.03,-0.27],[0.07,0.37],[0.17,-0.17],[0.29,0.13],[0.41,-0.33],[0.53,0.07],[0.67,0.29],[-0.91,0.47],[-0.67,-0.29],[-0.47,0.43],[-0.27,-0.11],[-0.09,0.29],[0.11,-0.03],[0.33,0.41],[-0.57,0.07],[-0.19,0.03],[-0.83,-0.17],[0.23,-0.41],[-0.39,-0.39],
[-1.17,-0.63],[-1.07,-1.17],[-0.97,-0.87],[-0.89,-1.43],[-0.81,-0.67],[-0.73,-1.03],[-0.65,-1.37],[-0.57,-0.79],[-0.49,-1.13],[-0.41,-0.57],[-0.33,-1.47],[-0.25,-0.89],[-0.17,-1.21],[-0.09,-0.71],[0.01,-1.07],[0.11,-0.83],[0.23,-1.33],[0.37,-0.61],[0.47,-1.01],[-1.03,-0.77],[-0.87,-1.29],[-0.69,-0.97],[-0.53,-0.59],[-0.39,-1.29],[-0.29,-0.99],[-0.13,-0.63],[0.05,-1.39],[-0.77,-0.53],[-0.61,-1.19],[-0.45,-0.93],
[-1.19,-1.73],[-1.07,-2.03],[-0.97,-1.67],[-0.87,-1.93],[-0.77,-1.71],[-0.67,-2.17],[-0.57,-1.61],[-0.47,-1.87],[-0.37,-1.73],[-0.27,-2.07],[-0.17,-1.57],[-0.07,-1.83],[-0.83,-2.29],[-1.13,-1.53],[-0.61,-1.99],
[-1.04,0.61],[-0.84,-0.22],[-0.66,0.49],[-1.12,-0.51],[-0.58,-0.71],[-0.87,-1.13],[-0.44,0.68],[-0.29,-0.47],[-0.74,-0.41],[-0.96,-0.06],[-0.52,-1.28],[-0.68,-1.17],[-0.35,0.81],[-0.18,0.46],[0.08,0.58],[-0.09,-0.62],[-0.83,-0.84],[-1.11,0.12],[-0.61,-0.19],[-0.42,-0.83],[-0.24,-1.07],[-0.78,0.56],[-0.56,0.89],[-0.91,-1.61],[-1.02,-1.39],[-0.64,-1.78],[-0.86,-0.36],[-0.34,-0.26],[-0.15,-0.38],[0.02,-0.45],[0.18,0.22],[0.41,0.49],[0.28,0.37],[0.46,0.98],[-0.27,1.22],[-0.51,1.41],[0.19,1.23],[0.12,1.12],[-0.37,1.33],[-0.74,1.47],[-0.93,1.33],[0.62,1.21],[-0.14,0.94],[0.29,0.79],[-0.49,0.92],[-0.23,0.85],[-1.06,0.74],[-1.18,-0.41],[-1.09,-0.98],[-0.99,-1.48],[-0.81,-1.12],[-0.55,-1.13],[-0.33,-0.74],[0.36,-0.17],[-0.7,1.61],[-0.26,-0.69],[-0.04,-0.83],[0.21,-0.77],[-0.62,0.09],[-0.47,1.04],
[-1.06,-0.27],[-0.91,-0.71],[-0.76,-0.13],[-0.63,-0.93],[-0.48,-0.52],[-0.31,-0.04],[-0.19,-0.54],[-0.02,-0.14],[-1.14,-0.88],[-0.99,-1.34],[-0.84,-1.52],[-0.69,-1.44],[-0.54,-0.41],[-0.39,-1.16],[-0.14,-0.83],[0.24,-0.63],[-0.72,0.34],[-0.51,0.14],[-0.27,0.27],[-0.06,0.21],[0.16,0.41],[-0.89,0.43],[-1.16,0.26],[-0.58,0.57],[-0.36,0.47],[-0.11,0.62],[0.22,0.74],[0.46,0.64],[-0.68,0.87],[-0.89,0.79],[-1.11,1.03],[0.31,1.03],[-0.52,1.02],[-0.78,1.38],[-0.94,1.48],[-0.76,0.97],[-0.58,1.17],[-0.07,1.17],[0.18,1.48],[-0.44,1.08],[-1.21,0.97],[-0.13,1.41],[-0.62,-1.96],[-1.24,-1.27],[-0.43,-1.84],[0.38,-0.07],[0.13,-0.53],[0.31,0.11],[-0.66,-0.32],[-0.9,0.04]
];

// Regressionsgeraden: Anfangs- und Endpunkt
var libFit = [[-1.66, -1.10], [4.34, 2.90]];
var perfFit = [[-1.76, -0.955], [4.47, 2.42]];
var konsFit = [[-1.88, -0.83], [3.79, 1.65]];
var sozFit = [[-1.90, -0.47], [7.5, 1.86]];

var allPts = [libPts, perfPts, konsPts, sozPts];
var allFits = [libFit, perfFit, konsFit, sozFit];

var gray = '#a6a6a6';
var tickGray = '#8c8c8c';

// Hintergrund der Facette und Titelleiste
var panelDeco = {
  id: 'panelDeco',
  beforeDraw: function(chart) {
    var a = chart.chartArea, ctx = chart.ctx;
    ctx.save();
    ctx.fillStyle = '#ebf3f8';
    ctx.fillRect(a.left, a.top, a.right - a.left, a.bottom - a.top);
    ctx.restore();
  },
  afterDraw: function(chart, args, opts) {
    var a = chart.chartArea, ctx = chart.ctx;
    ctx.save();
    ctx.fillStyle = '#68a9c8';
    ctx.fillRect(a.left, a.top, a.right - a.left, 33);
    ctx.fillStyle = '#ffffff';
    ctx.font = 'bold 17px Roboto';
    ctx.textAlign = 'center';
    ctx.textBaseline = 'middle';
    ctx.fillText(opts.title, (a.left + a.right) / 2, a.top + 17);
    ctx.restore();
  }
};

function toXY(arr) {
  return arr.map(function(p) { return { x: p[0], y: p[1] }; });
}

// keine automatische Randzugabe für Beschriftungen
function noPad(s) {
  s.paddingLeft = 0; s.paddingRight = 0; s.paddingTop = 0; s.paddingBottom = 0;
}

function makePanel(i) {
  var first = i === 0;
  var yScale = first ? {
    min: -4.18, max: 4.17,
    afterBuildTicks: function(s) { s.ticks = yTicks.map(function(v) { return { value: v }; }); },
    afterFit: function(s) { s.width = 75; noPad(s); },
    grid: { drawOnChartArea: false, tickLength: 7, color: gray, lineWidth: 1.5 },
    border: { display: true, color: gray, width: 1.5 },
    ticks: { padding: 11, color: tickGray, font: { size: 18, family: 'Roboto' } },
    title: { display: true, text: 'Wahlbeteiligung', color: '#333',
             font: { size: 17, family: 'Roboto' }, padding: { top: 10, bottom: 0 } }
  } : { display: false, min: -4.18, max: 4.17 };

  new Chart(document.getElementById('p' + i), {
    type: 'scatter',
    data: {
      datasets: [{
        data: toXY(allFits[i]),
        showLine: true,
        borderColor: '#d4bb8a',
        borderWidth: 3.2,
        pointRadius: 0,
        fill: false,
        order: 0
      }, {
        data: toXY(allPts[i]),
        pointRadius: 2.4,
        pointBackgroundColor: '#0b4684',
        pointBorderWidth: 0,
        order: 1
      }]
    },
    options: {
      responsive: false,
      animation: false,
      events: [],
      layout: { autoPadding: false, padding: { top: 11, right: 1, left: 0, bottom: 0 } },
      plugins: {
        legend: { display: false },
        tooltip: { enabled: false },
        panelDeco: { title: panelTitles[i] }
      },
      scales: {
        x: {
          type: 'linear', min: -2.66, max: 7.56,
          afterBuildTicks: function(s) { s.ticks = xTicks.map(function(v) { return { value: v }; }); },
          afterFit: function(s) { s.height = 37; noPad(s); },
          grid: { drawOnChartArea: false, tickLength: 6, color: gray, lineWidth: 1.5 },
          border: { color: gray, width: 1.5 },
          ticks: { padding: 8, color: tickGray, maxRotation: 0, autoSkip: false,
                   font: { size: 19, family: 'Roboto' } }
        },
        y: yScale
      }
    },
    plugins: [panelDeco]
  });
}

for (var i = 0; i < 4; i++) makePanel(i);
</script>
</body>
</html>
